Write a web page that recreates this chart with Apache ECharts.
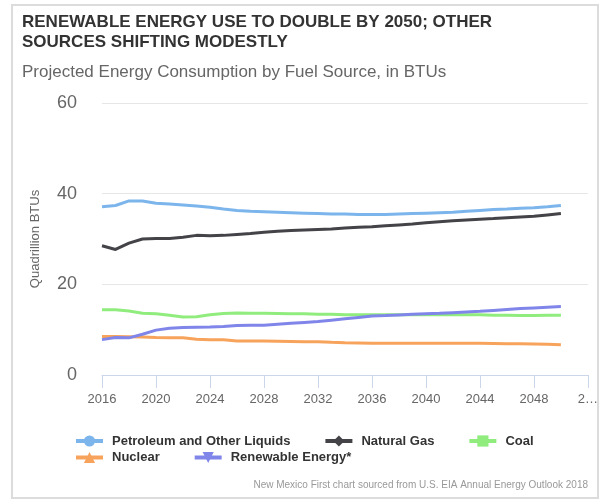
<!DOCTYPE html>
<html><head><meta charset="utf-8">
<script src="https://cdn.jsdelivr.net/npm/echarts@6/dist/echarts.min.js"></script>
<style>html,body{margin:0;padding:0;background:#fff}#c{width:601px;height:500px}</style>
</head><body><div id="c"></div>
<script>
const years = [2016,2017,2018,2019,2020,2021,2022,2023,2024,2025,2026,2027,2028,2029,2030,2031,2032,2033,2034,2035,2036,2037,2038,2039,2040,2041,2042,2043,2044,2045,2046,2047,2048,2049,2050];
const petroleum = [37.1,37.4,38.4,38.4,37.9,37.7,37.5,37.3,37.0,36.6,36.3,36.1,36.0,35.9,35.8,35.7,35.6,35.5,35.5,35.4,35.4,35.4,35.5,35.6,35.7,35.8,35.9,36.1,36.3,36.5,36.6,36.8,36.9,37.1,37.4];
const naturalGas = [28.5,27.7,29.1,30.0,30.1,30.1,30.4,30.8,30.7,30.8,31.0,31.2,31.5,31.7,31.9,32.0,32.1,32.2,32.4,32.6,32.7,32.9,33.1,33.3,33.6,33.8,34.0,34.2,34.35,34.5,34.7,34.85,35.0,35.3,35.6];
const coal = [14.4,14.4,14.1,13.6,13.5,13.2,12.8,12.85,13.3,13.55,13.7,13.6,13.6,13.55,13.5,13.5,13.4,13.4,13.3,13.3,13.3,13.3,13.3,13.3,13.3,13.3,13.3,13.3,13.3,13.2,13.2,13.1,13.1,13.2,13.2];
const nuclear = [8.5,8.5,8.45,8.4,8.25,8.2,8.2,7.9,7.8,7.75,7.5,7.5,7.5,7.45,7.4,7.35,7.35,7.2,7.1,7.05,7.0,7.0,7.0,7.0,7.0,7.0,7.0,7.0,7.0,6.95,6.9,6.9,6.85,6.8,6.7];
const renewable = [7.8,8.25,8.2,9.0,9.9,10.3,10.5,10.55,10.6,10.7,10.9,10.95,11.0,11.2,11.4,11.6,11.8,12.1,12.4,12.7,13.0,13.1,13.25,13.4,13.5,13.6,13.75,13.9,14.05,14.25,14.45,14.65,14.8,14.95,15.1];
const seriesNames = ['Petroleum and Other Liquids','Natural Gas','Coal','Nuclear','Renewable Energy*'];
const xTickValues = [2016,2020,2024,2028,2032,2036,2040,2044,2048,2052];
const xTickLabels = ['2016','2020','2024','2028','2032','2036','2040','2044','2048','2\u2026'];

const FONT = 'Liberation Sans, Arial, Helvetica, sans-serif';
const colors = ['#7cb5ec','#434348','#90ed7d','#f7a35c','#8085e9'];
const symbols = ['circle','diamond','rect','triangle','path://M0,0L2,0L1,2Z'];
const values = [petroleum, naturalGas, coal, nuclear, renewable];

const chart = echarts.init(document.getElementById('c'), null, {renderer:'canvas'});
const legendText = {fontFamily: FONT, fontSize: 13, fontWeight: 'bold', color: '#333', padding: [0,0,0,4]};
chart.setOption({
  animation: false,
  backgroundColor: '#fff',
  color: colors,
  textStyle: {fontFamily: FONT},
  graphic: [{type:'rect', shape:{x:12, y:5, width:586, height:493}, style:{fill:'none', stroke:'#dcdcdc', lineWidth:2}, silent:true}],
  title: [
    {text: 'RENEWABLE ENERGY USE TO DOUBLE BY 2050; OTHER\nSOURCES SHIFTING MODESTLY', left: 22, top: 12, padding: 0,
     textStyle: {fontFamily: FONT, fontSize: 17, fontWeight: 'bold', color: '#333', lineHeight: 20}},
    {text: 'Projected Energy Consumption by Fuel Source, in BTUs', left: 22, top: 62, padding: 0,
     textStyle: {fontFamily: FONT, fontSize: 17, fontWeight: 'normal', color: '#666', lineHeight: 20}},
    {text: 'New Mexico First chart sourced from U.S. EIA Annual Energy Outlook 2018', right: 13, top: 479, padding: 0,
     textStyle: {fontFamily: FONT, fontSize: 10, fontWeight: 'normal', color: '#999', lineHeight: 12}}
  ],
  legend: [
    {data: seriesNames.slice(0,3), left: 74, top: 434.5, padding: 0, itemGap: 33, itemWidth: 27, itemHeight: 14, textStyle: legendText, lineStyle: {width: 4}},
    {data: seriesNames.slice(3), left: 74, top: 451, padding: 0, itemGap: 33, itemWidth: 27, itemHeight: 14, textStyle: legendText, lineStyle: {width: 4}}
  ],
  grid: {left: 102, right: 13, top: 103, bottom: 125, containLabel: false},
  xAxis: {
    type: 'value', min: 2016, max: 2052, interval: 4,
    axisLine: {lineStyle: {color: '#ccd6eb', width: 1}},
    axisTick: {length: 13, lineStyle: {color: '#ccd6eb'}},
    splitLine: {show: false},
    axisLabel: {color: '#666', fontSize: 13, margin: 18, fontFamily: FONT,
      formatter: v => { const i = xTickValues.indexOf(v); return i >= 0 ? xTickLabels[i] : ''; }}
  },
  yAxis: {
    type: 'value', min: 0, max: 60, interval: 20,
    name: 'Quadrillion BTUs', nameLocation: 'middle', nameGap: 60,
    nameTextStyle: {color: '#666', fontSize: 13, fontFamily: FONT},
    axisLine: {show: false}, axisTick: {show: false},
    splitLine: {lineStyle: {color: '#e6e6e6', width: 1}},
    axisLabel: {color: '#666', fontSize: 18, margin: 25, fontFamily: FONT}
  },
  series: seriesNames.map((n, k) => ({
    name: n, type: 'line', showSymbol: false, symbol: symbols[k], symbolKeepAspect: true,
    lineStyle: {width: 3, color: colors[k]}, itemStyle: {color: colors[k]},
    data: years.map((y, i) => [y, values[k][i]])
  }))
});
</script>
</body></html>
